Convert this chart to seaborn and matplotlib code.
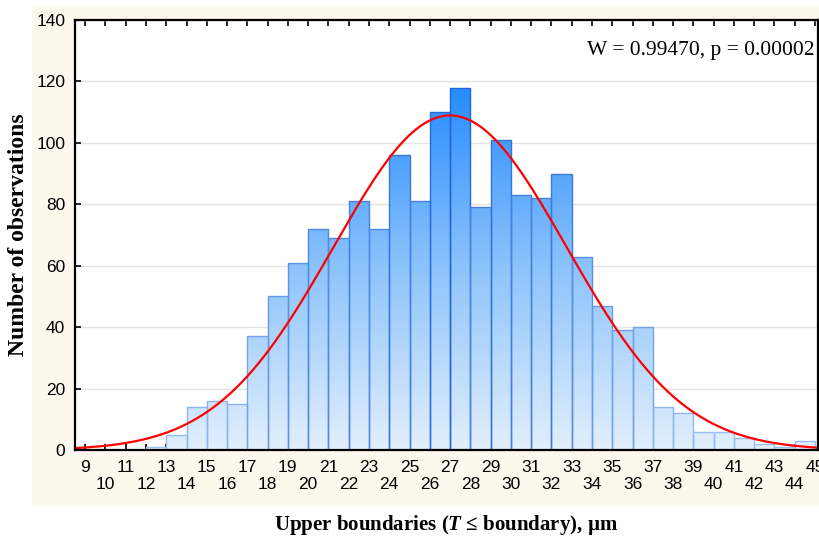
import numpy as np
import pandas as pd
import matplotlib
matplotlib.use("Agg")
import matplotlib.pyplot as plt
from matplotlib.colors import LinearSegmentedColormap, Normalize
from matplotlib.patches import Rectangle
import seaborn as sns

# ---- data ----
bin_lower = list(range(9, 45))
bin_upper = list(range(10, 46))
counts = [0, 0, 0, 1, 5, 14, 16, 15, 37, 50, 61, 72, 69, 81, 72, 96, 81, 110,
          118, 79, 101, 83, 82, 90, 63, 47, 39, 40, 14, 12, 6, 6, 4, 2, 1, 3]
fit_mean = 27.0
fit_sd = 5.75
n_obs = sum(counts)
bin_width = 1.0
y_ticks = [0, 20, 40, 60, 80, 100, 120, 140]
x_ticks = list(range(9, 46))
annotation = "W = 0.99470, p = 0.00002"

sns.set_theme(style="white")
plt.rcParams["text.color"] = "black"
plt.rcParams["axes.labelcolor"] = "black"
plt.rcParams["mathtext.fontset"] = "custom"
plt.rcParams["mathtext.rm"] = "Liberation Serif:bold"
plt.rcParams["mathtext.it"] = "Liberation Serif:italic:bold"
plt.rcParams["mathtext.bf"] = "Liberation Serif:bold"

fig = plt.figure(figsize=(8.2, 5.37), dpi=100)
fig.patch.set_facecolor("white")
# cream panel behind axes and tick labels
bg = fig.add_axes([32 / 820, 1 - 505 / 537, 1 - 32 / 820, (505 - 7) / 537], zorder=-5)
bg.set_facecolor("#fdf8ee")
bg.set_xticks([])
bg.set_yticks([])
for s in bg.spines.values():
    s.set_visible(False)

ax = fig.add_axes([75 / 820, 1 - 450 / 537, (818 - 75) / 820, (450 - 20) / 537], zorder=1)
ax.set_facecolor("white")

df = pd.DataFrame({"mid": [(a + b) / 2 for a, b in zip(bin_lower, bin_upper)],
                   "count": counts})
edges = bin_lower + [bin_upper[-1]]
sns.histplot(data=df, x="mid", weights="count", bins=edges, ax=ax,
             stat="count", element="bars", fill=True, linewidth=0)

cmap = LinearSegmentedColormap.from_list(
    "bluegrad", [(0.0, "#e2effd"), (0.5, "#8cc3fb"), (1.0, "#238aff")])
norm = Normalize(0, 120)
edge_cmap = LinearSegmentedColormap.from_list("edge", ["#9cc0f2", "#1f63d6"])

for p in list(ax.patches):
    x0 = p.get_x()
    w = p.get_width()
    h = p.get_height()
    p.set_facecolor("none")
    p.set_edgecolor("none")
    if h <= 0:
        continue
    grad = np.linspace(0, h, 200)[:, None]
    im = ax.imshow(grad, cmap=cmap, norm=norm, origin="lower",
                   extent=[x0, x0 + w, 0, h], aspect="auto", zorder=2,
                   interpolation="bilinear")
    clip = Rectangle((x0, 0), w, h, transform=ax.transData, facecolor="none",
                     edgecolor="none")
    im.set_clip_path(clip)
    ax.add_patch(Rectangle((x0, 0), w, h, facecolor="none",
                           edgecolor=edge_cmap(min(h / 120, 1.0)),
                           linewidth=1.0, zorder=3))

# fitted normal curve
xs = np.linspace(8.5, 45.2, 400)
ys = n_obs * bin_width / (fit_sd * np.sqrt(2 * np.pi)) * np.exp(-0.5 * ((xs - fit_mean) / fit_sd) ** 2)
sns.lineplot(x=xs, y=ys, ax=ax, color="#ff0000", linewidth=1.6, zorder=4)

ax.set_xlim(8.5, 45.15)
ax.set_ylim(0, 140)
ax.set_yticks(y_ticks)
ax.set_yticklabels([str(v) for v in y_ticks])
ax.set_xticks(x_ticks)
ax.set_xticklabels([str(v) if v % 2 == 1 else "\n" + str(v) for v in x_ticks])
ax.grid(axis="y", color="#e3e3e3", linewidth=1.0, zorder=0)
ax.grid(axis="x", visible=False)
ax.set_axisbelow(True)

for s in ax.spines.values():
    s.set_visible(True)
    s.set_color("black")
    s.set_linewidth(1.6)
    s.set_zorder(5)

ax.tick_params(axis="x", which="major", direction="in", length=4, width=1.2,
               top=True, bottom=True, pad=7, labelsize=12.5, colors="black")
ax.tick_params(axis="y", which="major", direction="in", length=4, width=1.2,
               left=True, right=False, pad=7, labelsize=12.5, colors="black")
for lab in ax.get_xticklabels() + ax.get_yticklabels():
    lab.set_family("Liberation Sans")
    lab.set_color("black")

ax.set_xlabel(r"Upper boundaries ($\mathit{T}$ ≤ boundary), µm",
              family="Liberation Serif", fontweight="bold", fontsize=15,
              color="black")
ax.set_ylabel("Number of observations", family="Liberation Serif",
              fontweight="bold", fontsize=17, color="black")
ax.xaxis.set_label_coords(0.5, -(513 - 450) / 430)
ax.yaxis.set_label_coords(-(75 - 29) / 743, 0.5)

ax.text(815 / 820, 1 - 51 / 537, annotation, transform=fig.transFigure,
        ha="right", va="center", family="Liberation Serif", fontsize=15.5,
        color="black", zorder=6)

fig.savefig("out.png", dpi=100, facecolor=fig.get_facecolor())
